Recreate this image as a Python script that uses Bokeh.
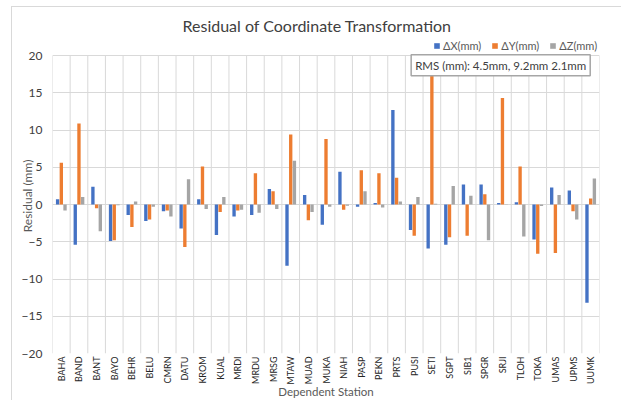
import math
from bokeh.plotting import figure
from bokeh.models import FixedTicker, Legend, LegendItem, Label, ColumnDataSource
from bokeh.embed import file_html
from bokeh.resources import INLINE

stations = ["BAHA", "BAND", "BANT", "BAYO", "BEHR", "BELU", "CMRN", "DATU", "KROM", "KUAL",
            "MRDI", "MRDU", "MRSG", "MTAW", "MUAD", "MUKA", "NIAH", "PASP", "PEKN", "PRTS",
            "PUSI", "SETI", "SGPT", "SIB1", "SPGR", "SRJI", "TLOH", "TOKA", "UMAS", "UPMS", "UUMK"]
dx = [0.7, -5.4, 2.4, -4.9, -1.4, -2.2, -0.9, -3.2, 0.7, -4.1,
      -1.6, -1.4, 2.1, -8.2, 1.3, -2.7, 4.4, -0.3, 0.2, 12.7,
      -3.4, -5.9, -5.4, 2.7, 2.7, 0.2, 0.3, -4.7, 2.3, 1.9, -13.2]
dy = [5.6, 10.9, -0.5, -4.8, -3.0, -2.0, -0.8, -5.7, 5.1, -1.0,
      -0.8, 4.2, 1.8, 9.4, -2.1, 8.8, -0.7, 4.6, 4.2, 3.6,
      -4.2, 17.3, -4.4, -4.2, 1.4, 14.3, 5.1, -6.6, -6.5, -0.9, 0.8]
dz = [-0.8, 1.0, -3.6, -0.1, 0.4, -0.3, -1.6, 3.4, -0.6, 1.0,
      -0.7, -1.1, -0.6, 5.9, -1.0, -0.3, -0.15, 1.8, -0.4, 0.4,
      1.0, 0.1, 2.5, 1.2, -4.8, 0.05, -4.3, -0.2, 1.3, -2.0, 3.5]
series_names = ["\u0394X(mm)", "\u0394Y(mm)", "\u0394Z(mm)"]
y_ticks = [-20, -15, -10, -5, 0, 5, 10, 15, 20]
y_min, y_max = -20, 20
rms_text = "RMS (mm): 4.5mm, 9.2mm 2.1mm"

FONT = "Lato"
TXT = "#595959"
GRID = "#d9d9d9"
colors = ["#4472C4", "#ED7D31", "#A5A5A5"]

idx = list(range(len(stations)))
n = len(stations)

# extra headroom above the plot area hosts the legend (frame clips legends)
head = 2.3
p = figure(frame_width=547, frame_height=315, output_backend="svg", toolbar_location=None,
           x_range=(-0.5, n - 0.5), y_range=(y_min, y_max + head),
           min_border_left=40, min_border_right=22, min_border_top=31, min_border_bottom=45)
p.background_fill_color = "white"
p.border_fill_color = "white"
p.outline_line_color = None
p.styles = {"margin-left": "11px", "margin-top": "6px",
            "border-left": "1px solid #d9d9d9", "border-top": "1px solid #d9d9d9"}

p.title.text = "Residual of Coordinate Transformation"
p.title.text_font = FONT
p.title.text_font_size = "16px"
p.title.text_font_style = "normal"
p.title.text_color = "#404040"
p.title.align = "left"
p.title.offset = 130
p.title.standoff = 8

# vertical category separators (grid)
bounds = [i - 0.5 for i in range(n + 1)]
p.segment(x0=bounds, y0=[y_min] * len(bounds), x1=bounds, y1=[y_max] * len(bounds),
          line_color=GRID, line_width=1)

renderers = []
offsets = [-0.21, 0.0, 0.21]
for vals, off, col in zip([dx, dy, dz], offsets, colors):
    src = ColumnDataSource(dict(x=[i + off for i in idx], top=vals))
    r = p.vbar(x="x", top="top", bottom=0, width=0.19, source=src,
               fill_color=col, line_color=None)
    renderers.append(r)

legend = Legend(items=[LegendItem(label=s, renderers=[r]) for s, r in zip(series_names, renderers)],
                orientation="horizontal", location=(381, 301),
                background_fill_alpha=0, border_line_color=None,
                label_text_font=FONT, label_text_font_size="11px", label_text_color=TXT,
                glyph_width=7, glyph_height=7, label_standoff=3, spacing=10,
                padding=1, margin=0, label_height=10)
p.add_layout(legend, "center")

rms = Label(x=24.9, y=18.7, text=rms_text, text_align="center", text_baseline="middle",
            text_font=FONT, text_font_size="11.5px", text_color="#404040",
            border_line_color="#a6a6a6", border_line_width=1.5,
            background_fill_color="white", padding=4)
p.add_layout(rms)

# x axis
p.xaxis.ticker = FixedTicker(ticks=idx)
p.xaxis.major_label_overrides = {i: s for i, s in enumerate(stations)}
p.xaxis.major_label_orientation = math.pi / 2
p.xaxis.major_label_text_font = FONT
p.xaxis.major_label_text_font_size = "9px"
p.xaxis.major_label_text_color = "#262626"
p.xaxis.major_label_standoff = 3
p.xaxis.axis_line_color = None
p.xaxis.major_tick_line_color = None
p.xaxis.minor_tick_line_color = None
p.xaxis.major_tick_out = 0
p.xaxis.major_tick_in = 0
p.xaxis.axis_label = "Dependent Station"
p.xaxis.axis_label_text_font = FONT
p.xaxis.axis_label_text_font_size = "11.5px"
p.xaxis.axis_label_text_font_style = "normal"
p.xaxis.axis_label_text_color = TXT
p.xaxis.axis_label_standoff = -3

# y axis
p.yaxis.ticker = FixedTicker(ticks=y_ticks)
p.yaxis.major_label_text_font = FONT
p.yaxis.major_label_text_font_size = "12px"
p.yaxis.major_label_text_color = "#404040"
p.yaxis.major_label_standoff = 10
p.yaxis.axis_line_color = None
p.yaxis.major_tick_line_color = None
p.yaxis.minor_tick_line_color = None
p.yaxis.major_tick_out = 0
p.yaxis.major_tick_in = 0
p.yaxis.axis_label = "Residual (mm)"
p.yaxis.axis_label_text_font = FONT
p.yaxis.axis_label_text_font_size = "12px"
p.yaxis.axis_label_text_font_style = "normal"
p.yaxis.axis_label_text_color = TXT
p.yaxis.axis_label_standoff = -16

# grids
p.xgrid.visible = False
p.ygrid.ticker = FixedTicker(ticks=y_ticks)
p.ygrid.grid_line_color = GRID
p.ygrid.grid_line_width = 1

open("out.html", "w").write(file_html(p, INLINE))
